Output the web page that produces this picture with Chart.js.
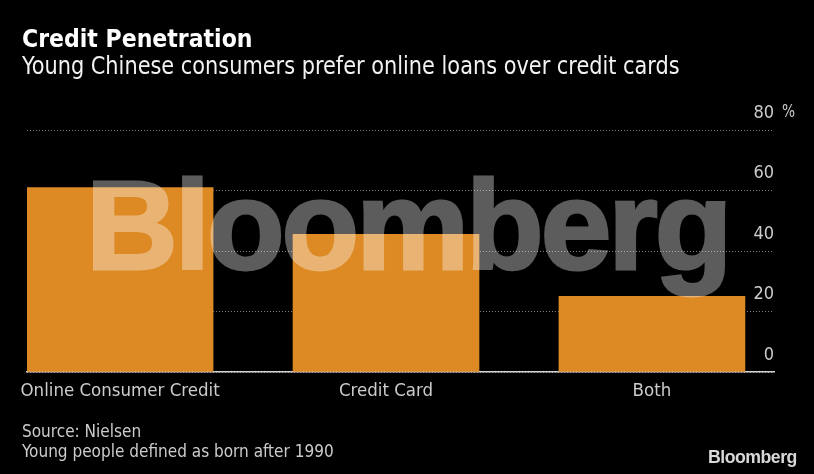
<!DOCTYPE html>
<html><head><meta charset="utf-8">
<script src="https://cdn.jsdelivr.net/npm/chart.js@4"></script>
<style>
html,body{margin:0;padding:0;background:#000;width:814px;height:474px;overflow:hidden}
#wrap{position:relative;width:814px;height:474px;background:#000;overflow:hidden}
canvas{position:absolute;left:0;top:0}
.t{position:absolute;white-space:nowrap;font-family:"DejaVu Sans Condensed","DejaVu Sans";font-stretch:condensed;transform-origin:0 0}
#title{left:22px;top:24px;font-size:24.5px;font-weight:bold;color:#fff}
#sub{left:22px;top:51px;font-size:24.3px;color:#f2f2f2;transform:scaleX(.955)}
#pct{left:782px;top:100px;font-size:18px;color:#ccc;transform:scaleX(.85)}
#src{left:22px;top:421px;font-size:17.3px;line-height:20px;color:#ccc;transform:scaleX(.985)}
#wm{left:86px;top:150px;font-family:"Liberation Sans";font-weight:bold;font-size:127px;letter-spacing:-3px;line-height:150px;color:#fff;-webkit-text-stroke:3px #fff;opacity:.36}
#logo{left:708px;top:447px;font-family:"Liberation Sans";font-weight:bold;font-size:17.7px;letter-spacing:-.5px;color:#d8d8d8}
</style></head><body>
<div id="wrap">
<canvas id="c" width="814" height="474"></canvas>
<div class="t" id="title">Credit Penetration</div>
<div class="t" id="sub">Young Chinese consumers prefer online loans over credit cards</div>
<div class="t" id="pct">%</div>
<div class="t" id="src">Source: Nielsen<br>Young people defined as born after 1990</div>
<div class="t" id="wm">Bloomberg</div>
<div class="t" id="logo">Bloomberg</div>
</div>
<script>
const categories = ["Online Consumer Credit", "Credit Card", "Both"];
const penetration = [61, 45.5, 25];
const yTicks = [0, 20, 40, 60, 80];
const font = '"DejaVu Sans Condensed","DejaVu Sans"';

new Chart(document.getElementById('c'), {
  type: 'bar',
  data: { datasets: [{
    data: penetration.map((v, i) => ({ x: i, y: v })),
    backgroundColor: '#DD8A24',
    borderWidth: 0,
    barThickness: 186
  }]},
  options: {
    responsive: false,
    animation: false,
    layout: { padding: { top: 130, left: 27, right: 40, bottom: 0 } },
    plugins: { legend: { display: false }, tooltip: { enabled: false } },
    scales: {
      x: {
        type: 'linear',
        offset: false,
        min: -0.35,
        max: 2.459,
        afterBuildTicks: s => { s.ticks = categories.map((_, i) => ({ value: i })); },
        afterFit: s => { s.height = 102; },
        grid: { display: false, offset: false },
        border: { display: true, color: '#d0d0d0', width: 1.5 },
        ticks: {
          autoSkip: false, maxRotation: 0, minRotation: 0,
          color: '#ccc', padding: 0,
          font: { family: font, size: 18.5 },
          callback: v => categories[v]
        }
      },
      y: {
        position: 'right',
        min: 0, max: 80,
        afterBuildTicks: s => { s.ticks = yTicks.map(v => ({ value: v })); },
        afterFit: s => { s.width = 0; },
        grid: { color: '#808080', lineWidth: 1, tickLength: 0 },
        border: { display: false, dash: [1, 2] },
        ticks: {
          autoSkip: false,
          mirror: true, padding: 0, color: '#ccc',
          font: { family: font, size: 18, lineHeight: 1.9 },
          callback: v => [String(v), '']
        }
      }
    }
  }
});
</script>
</body></html>
